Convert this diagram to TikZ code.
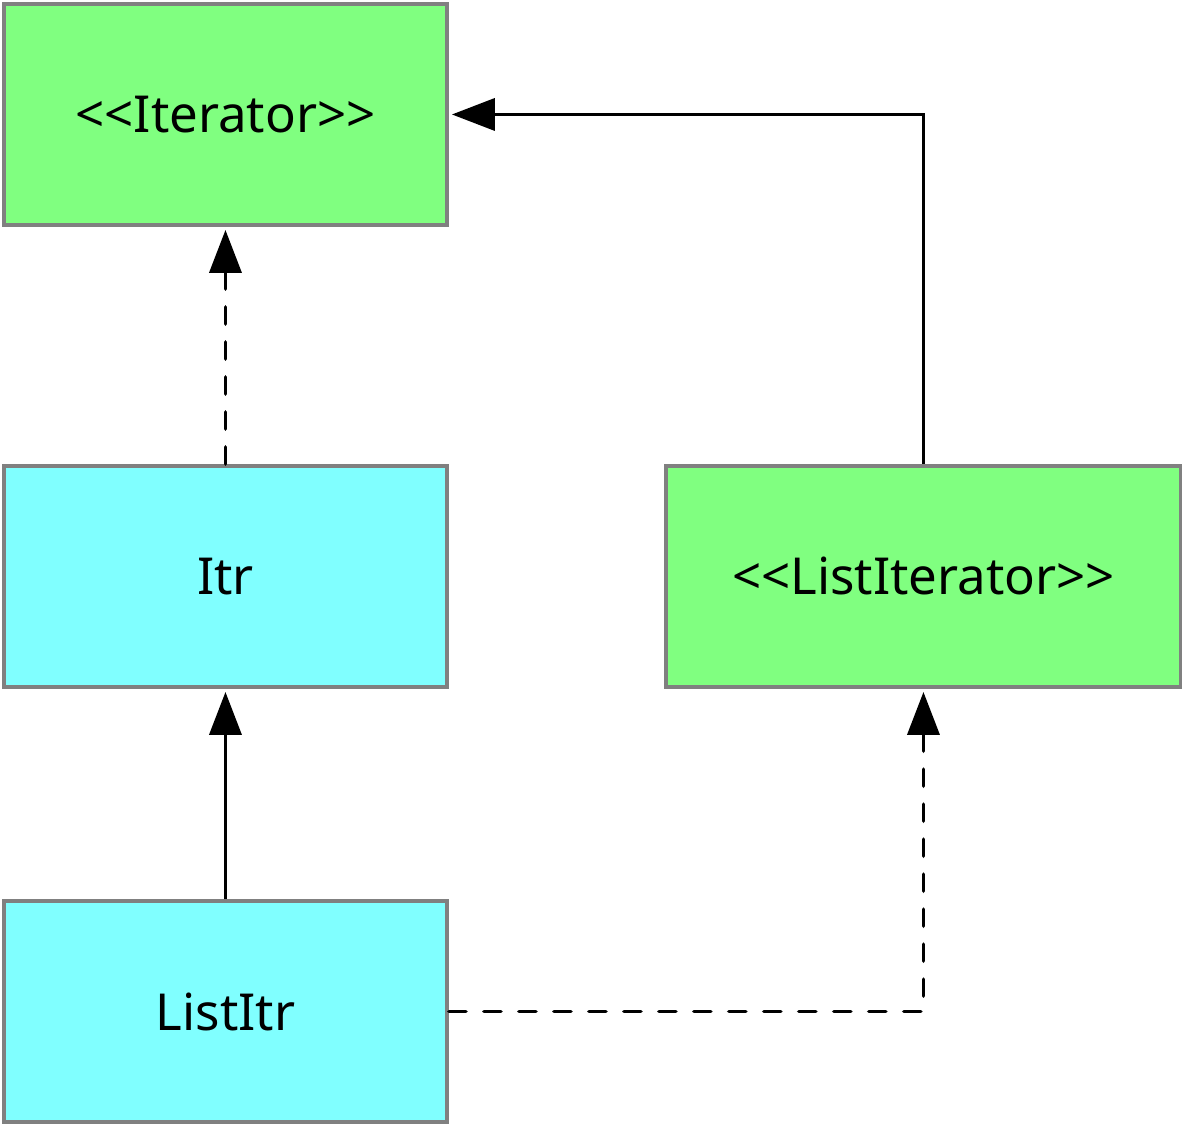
\documentclass[tikz,border=0pt]{standalone}
\usepackage{fontspec}
\setmainfont{Noto Sans}[Ligatures=TeXOff]
\usetikzlibrary{arrows.meta}
\definecolor{boxgreen}{HTML}{80FF80}
\definecolor{boxcyan}{HTML}{80FFFF}
\definecolor{boxborder}{HTML}{808080}
\begin{document}
\begin{tikzpicture}[x=0.02cm,y=-0.02cm,
  cls/.style={draw=boxborder,line width=0.08cm,minimum width=8.86cm,minimum height=4.42cm,inner sep=0pt,font=\fontsize{29}{34}\selectfont,anchor=north west},
  greenbox/.style={cls,fill=boxgreen},
  cyanbox/.style={cls,fill=boxcyan},
  conn/.style={line width=0.075cm,-{Triangle[length=0.86cm,width=0.64cm]},shorten >=0.06cm},
  dashconn/.style={conn,line cap=round,dash pattern=on 0.34cm off 0.36cm}]
\useasboundingbox (0,0) rectangle (1182,1124);
\node[greenbox] (iter) at (2,2) {<<Iterator>>};
\node[cyanbox] (itr) at (2,464) {Itr};
\node[greenbox,minimum width=10.3cm] (liter) at (664,464) {<<ListIterator>>};
\node[cyanbox] (litr) at (2,899) {ListItr};
\draw[dashconn] (itr.north) -- (iter.south);
\draw[conn] (liter.north) |- (iter.east);
\draw[conn] (litr.north) -- (itr.south);
\draw[dashconn] (litr.east) -| (liter.south);
\end{tikzpicture}
\end{document}
